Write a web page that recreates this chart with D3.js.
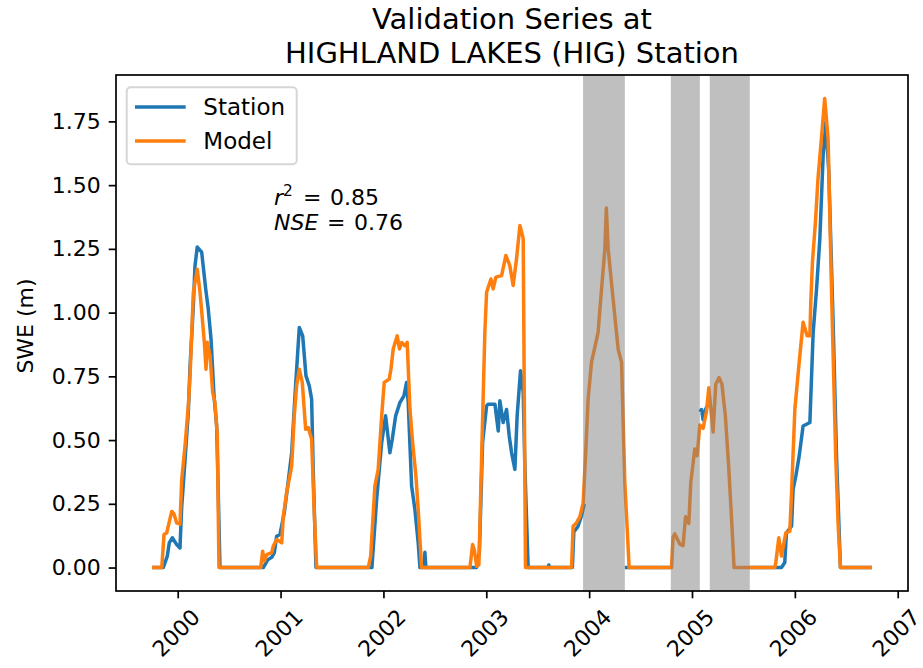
<!DOCTYPE html>
<html>
<head>
<meta charset="utf-8">
<script src="https://cdn.jsdelivr.net/npm/d3@7"></script>
<style>
  html, body { margin: 0; padding: 0; background: #fff; }
  svg { display: block; font-family: "DejaVu Sans", sans-serif; }
</style>
</head>
<body>
<svg id="chart" width="923" height="668"></svg>
<script>
// Snow water equivalent (m) by decimal year, water years 2000–2006
const station = [
  [1999.75,0],[1999.860,0],[1999.877,0.02],[1999.899,0.045],[1999.918,0.097],[1999.948,0.117],[1999.990,0.09],[2000.022,0.077],
  [2000.039,0.24],[2000.071,0.42],[2000.103,0.61],[2000.120,0.79],[2000.152,1.027],[2000.168,1.184],[2000.190,1.257],[2000.233,1.237],
  [2000.272,1.093],[2000.297,1.014],[2000.324,0.896],[2000.353,0.673],[2000.379,0.555],[2000.411,0],
  [2000.832,0],[2000.875,0.03],[2000.914,0.04],[2000.939,0.058],[2000.962,0.123],[2000.994,0.13],[2001.036,0.215],[2001.069,0.32],
  [2001.108,0.45],[2001.140,0.673],[2001.182,0.942],[2001.215,0.909],[2001.247,0.752],[2001.279,0.713],[2001.302,0.66],[2001.318,0.372],[2001.344,0],
  [2001.888,0],[2001.934,0.267],[2001.983,0.49],[2002.021,0.595],[2002.063,0.45],[2002.086,0.503],[2002.119,0.595],[2002.160,0.647],
  [2002.199,0.673],[2002.225,0.726],[2002.241,0.647],[2002.274,0.32],[2002.306,0.228],[2002.338,0.097],[2002.355,0],
  [2002.394,0],[2002.403,0.06],[2002.413,0],
  [2002.906,0],[2002.933,0.06],[2002.964,0.49],[2003.003,0.634],[2003.018,0.641],[2003.084,0.641],[2003.116,0.536],[2003.132,0.654],
  [2003.164,0.569],[2003.197,0.62],[2003.223,0.516],[2003.246,0.45],[2003.278,0.385],[2003.300,0.595],[2003.333,0.772],[2003.359,0.687],
  [2003.375,0.398],[2003.407,0],
  [2003.600,0],[2003.608,0.01],[2003.616,0],
  [2003.837,0],[2003.851,0.14],[2003.890,0.16],[2003.924,0.2],[2003.953,0.25],
  [2003.960,null],
  [2004.347,0],[2004.794,0],
  [2004.800,null],
  [2005.076,0.61],[2005.092,0.62],[2005.108,0.58],[2005.131,0.62],[2005.156,0.64],
  [2005.170,null],
  [2005.562,0],[2005.870,0],[2005.902,0.02],[2005.918,0.136],[2005.968,0.162],[2005.983,0.307],[2006.010,0.36],[2006.042,0.437],
  [2006.080,0.555],[2006.146,0.569],[2006.178,0.922],[2006.211,1.093],[2006.243,1.29],[2006.275,1.617],[2006.301,1.748],[2006.330,1.551],
  [2006.372,0.962],[2006.405,0.437],[2006.443,0],[2006.75,0]
];

const model = [
  [1999.75,0],[1999.845,0],[1999.867,0.13],[1999.893,0.136],[1999.942,0.22],[1999.964,0.21],[1999.990,0.175],[2000.022,0.17],
  [2000.039,0.346],[2000.071,0.477],[2000.103,0.634],[2000.120,0.752],[2000.152,1.08],[2000.190,1.17],[2000.217,1.08],[2000.259,0.883],
  [2000.275,0.778],[2000.288,0.884],[2000.314,0.83],[2000.340,0.687],[2000.362,0.647],[2000.385,0.516],[2000.401,0],
  [2000.807,0],[2000.826,0.064],[2000.842,0.025],[2000.865,0.051],[2000.914,0.058],[2000.929,0.084],[2000.962,0.11],[2001.011,0.097],
  [2001.026,0.2],[2001.059,0.294],[2001.108,0.398],[2001.133,0.595],[2001.156,0.713],[2001.182,0.778],[2001.211,0.726],[2001.244,0.542],
  [2001.269,0.549],[2001.302,0.503],[2001.325,0.24],[2001.351,0],
  [2001.852,0],[2001.876,0.045],[2001.917,0.32],[2001.949,0.385],[2001.983,0.595],[2002.008,0.726],[2002.056,0.739],[2002.073,0.778],
  [2002.095,0.857],[2002.134,0.909],[2002.156,0.857],[2002.177,0.883],[2002.209,0.87],[2002.231,0.883],[2002.258,0.62],[2002.284,0.49],
  [2002.316,0.359],[2002.338,0.228],[2002.371,0],
  [2002.841,0],[2002.867,0.09],[2002.884,0.07],[2002.906,0.005],[2002.928,0.01],[2002.960,0.516],[2002.986,0.922],[2003.003,1.08],
  [2003.045,1.132],[2003.067,1.093],[2003.093,1.139],[2003.149,1.145],[2003.190,1.224],[2003.229,1.184],[2003.261,1.106],[2003.294,1.211],
  [2003.327,1.342],[2003.359,1.29],[2003.381,0],
  [2003.829,0],[2003.844,0.162],[2003.878,0.176],[2003.910,0.2],[2003.942,0.254],[2003.968,0.464],[2003.990,0.66],[2004.023,0.805],
  [2004.087,0.922],[2004.110,1.04],[2004.153,1.25],[2004.167,1.41],[2004.185,1.25],[2004.233,1.053],[2004.282,0.857],[2004.315,0.805],
  [2004.347,0.333],[2004.389,0],
  [2004.801,0],[2004.816,0.119],[2004.833,0.132],[2004.881,0.092],[2004.913,0.086],[2004.937,0.199],[2004.969,0.173],[2004.988,0.332],
  [2005.027,0.465],[2005.050,0.439],[2005.076,0.559],[2005.108,0.546],[2005.141,0.612],[2005.163,0.705],[2005.183,0.625],[2005.205,0.532],
  [2005.231,0.719],[2005.263,0.745],[2005.291,0.719],[2005.324,0.597],[2005.356,0.4],[2005.384,0.198],[2005.409,0],
  [2005.805,0],[2005.815,0.02],[2005.844,0.117],[2005.870,0.045],[2005.912,0.136],[2005.951,0.143],[2005.968,0.294],[2006.000,0.621],
  [2006.042,0.805],[2006.080,0.962],[2006.119,0.909],[2006.146,0.909],[2006.155,1.04],[2006.171,1.198],[2006.200,1.355],[2006.225,1.525],
  [2006.258,1.682],[2006.290,1.84],[2006.323,1.682],[2006.356,1.093],[2006.397,0.437],[2006.420,0.176],[2006.443,0],[2006.75,0]
];

// Periods with missing station record, shaded
const gapPeriods = [[2003.941, 2004.347], [2004.794, 2005.076], [2005.173, 2005.562]];

const xTickYears = [2000, 2001, 2002, 2003, 2004, 2005, 2006, 2007];
const yTickValues = [0, 0.25, 0.5, 0.75, 1.0, 1.25, 1.5, 1.75];
const seriesNames = ["Station", "Model"];
const seriesColors = ["#1f77b4", "#ff7f0e"];
const stats = { r2: "0.85", nse: "0.76" };
const titleLines = ["Validation Series at", "HIGHLAND LAKES (HIG) Station"];

const svg = d3.select("#chart");
const box = { left: 116, right: 908, top: 75, bottom: 591 };

// 5% padding around the data extent on both axes
const tExt = d3.extent(model, d => d[0]);
const tPad = (tExt[1] - tExt[0]) * 0.05;
const vMax = d3.max(station.concat(model), d => d[1]);
const vPad = vMax * 0.05;

const x = d3.scaleLinear().domain([tExt[0] - tPad, tExt[1] + tPad]).range([box.left, box.right]);
const y = d3.scaleLinear().domain([-vPad, vMax + vPad]).range([box.bottom, box.top]);

svg.append("defs").append("clipPath").attr("id", "plot-clip")
  .append("rect").attr("x", box.left).attr("y", box.top)
  .attr("width", box.right - box.left).attr("height", box.bottom - box.top);

const plot = svg.append("g").attr("clip-path", "url(#plot-clip)");

const line = d3.line()
  .defined(d => d[1] !== null)
  .x(d => x(d[0]))
  .y(d => y(d[1]));

const lineWidth = 3.5;
[station, model].forEach((s, i) => {
  plot.append("path")
    .datum(s)
    .attr("d", line)
    .attr("fill", "none")
    .attr("stroke", seriesColors[i])
    .attr("stroke-width", lineWidth)
    .attr("stroke-linejoin", "round");
});

// Shaded gaps over the lines
plot.selectAll("rect.gap")
  .data(gapPeriods)
  .join("rect")
  .attr("class", "gap")
  .attr("x", d => x(d[0]))
  .attr("width", d => x(d[1]) - x(d[0]))
  .attr("y", box.top)
  .attr("height", box.bottom - box.top)
  .attr("fill", "#808080")
  .attr("fill-opacity", 0.5);

// Axes
const tickLen = 7.3, tickW = 1.7, fontSize = 22, bigFont = 23;

const yAxis = svg.append("g")
  .attr("transform", `translate(${box.left},0)`)
  .call(d3.axisLeft(y).tickValues(yTickValues).tickFormat(d3.format(".2f"))
    .tickSize(tickLen).tickPadding(8));
yAxis.select(".domain").remove();
yAxis.selectAll("line").attr("stroke", "#000").attr("stroke-width", tickW);
yAxis.selectAll("text").attr("font-size", fontSize).attr("fill", "#000")
  .attr("font-family", "DejaVu Sans");

const xAxis = svg.append("g")
  .attr("transform", `translate(0,${box.bottom})`)
  .call(d3.axisBottom(x).tickValues(xTickYears).tickFormat(d3.format("d")).tickSize(tickLen));
xAxis.select(".domain").remove();
xAxis.selectAll("line").attr("stroke", "#000").attr("stroke-width", tickW);
xAxis.selectAll("text")
  .attr("font-size", fontSize).attr("fill", "#000").attr("font-family", "DejaVu Sans")
  .attr("text-anchor", "middle")
  .attr("y", 0).attr("dy", "0.35em")
  .attr("transform", "translate(-2,42) rotate(-45)");

// Frame
svg.append("rect")
  .attr("x", box.left).attr("y", box.top)
  .attr("width", box.right - box.left).attr("height", box.bottom - box.top)
  .attr("fill", "none").attr("stroke", "#000").attr("stroke-width", 1.7);

// Y label
svg.append("text")
  .attr("transform", `translate(33,326) rotate(-90)`)
  .attr("text-anchor", "middle")
  .attr("font-size", fontSize)
  .text("SWE (m)");

// Title
svg.append("text")
  .attr("text-anchor", "middle")
  .attr("font-size", 29)
  .selectAll("tspan")
  .data(titleLines)
  .join("tspan")
  .attr("x", (box.left + box.right) / 2)
  .attr("y", (d, i) => 29 + i * 33.5)
  .text(d => d);

// Fit statistics, laid out like math text with wide spacing around "="
const statText = svg.append("g").attr("font-size", fontSize);
const r2 = statText.append("text").attr("y", 205);
r2.append("tspan").attr("x", 274).attr("font-style", "italic").text("r");
r2.append("tspan").attr("font-size", fontSize * 0.7).attr("dy", -9).text("2");
r2.append("tspan").attr("x", 303).attr("dy", 9).text("=");
r2.append("tspan").attr("x", 330).text(stats.r2);
const nse = statText.append("text").attr("y", 230);
nse.append("tspan").attr("x", 274).attr("font-style", "italic").text("NSE");
nse.append("tspan").attr("x", 327).text("=");
nse.append("tspan").attr("x", 354).text(stats.nse);

// Legend
const legend = svg.append("g");
legend.append("rect")
  .attr("x", 126.7).attr("y", 87.3).attr("width", 170).attr("height", 77).attr("rx", 4)
  .attr("fill", "#fff").attr("fill-opacity", 0.8)
  .attr("stroke", "#d6d6d6").attr("stroke-width", 2);
seriesNames.forEach((name, i) => {
  const cy = 107 + i * 34;
  legend.append("line")
    .attr("x1", 135).attr("x2", 185.7).attr("y1", cy).attr("y2", cy)
    .attr("stroke", seriesColors[i]).attr("stroke-width", lineWidth);
  legend.append("text")
    .attr("x", 203.3).attr("y", cy + 8)
    .attr("font-size", bigFont)
    .text(name);
});
</script>
</body>
</html>
